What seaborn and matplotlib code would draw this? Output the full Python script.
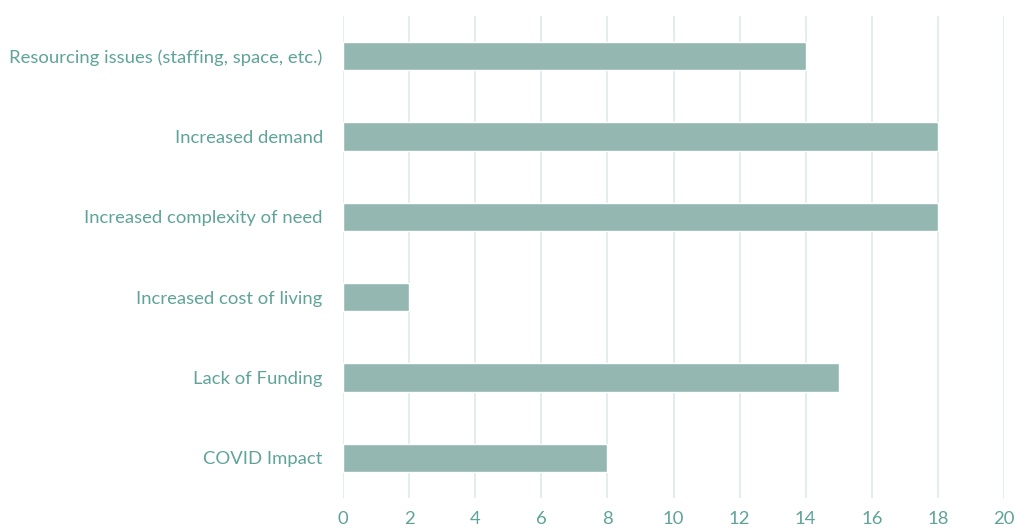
import matplotlib
matplotlib.use("Agg")
import matplotlib.pyplot as plt
import seaborn as sns
import pandas as pd

categories = [
    "Resourcing issues (staffing, space, etc.)",
    "Increased demand",
    "Increased complexity of need",
    "Increased cost of living",
    "Lack of Funding",
    "COVID Impact",
]
counts = [14, 18, 18, 2, 15, 8]

df = pd.DataFrame({"category": categories, "count": counts})

text_color = "#5FA39A"
bar_color = "#94B7B2"
grid_color = "#DCEBEA"

sns.set_theme(style="white")
plt.rcParams["font.family"] = ["Lato", "DejaVu Sans"]

fig = plt.figure(figsize=(10.15, 5.3), dpi=100)
ax = fig.add_axes([343 / 1015, 32 / 530, 661 / 1015, 482 / 530])

sns.barplot(df, x="count", y="category", color=bar_color, width=0.35,
            saturation=1, ax=ax, zorder=3)

ax.set_xlim(0, 20)
ax.set_ylim(5.5, -0.5)
ax.set_xticks(range(0, 21, 2))
ax.grid(axis="x", color=grid_color, linewidth=1.2, zorder=0)
ax.set_axisbelow(True)
for s in ax.spines.values():
    s.set_visible(False)
ax.set_xlabel("")
ax.set_ylabel("")
ax.tick_params(axis="both", length=0, labelcolor=text_color, labelsize=13.3)
ax.tick_params(axis="y", pad=14.5)
ax.tick_params(axis="x", pad=9)

plt.savefig("out.png", dpi=100)
